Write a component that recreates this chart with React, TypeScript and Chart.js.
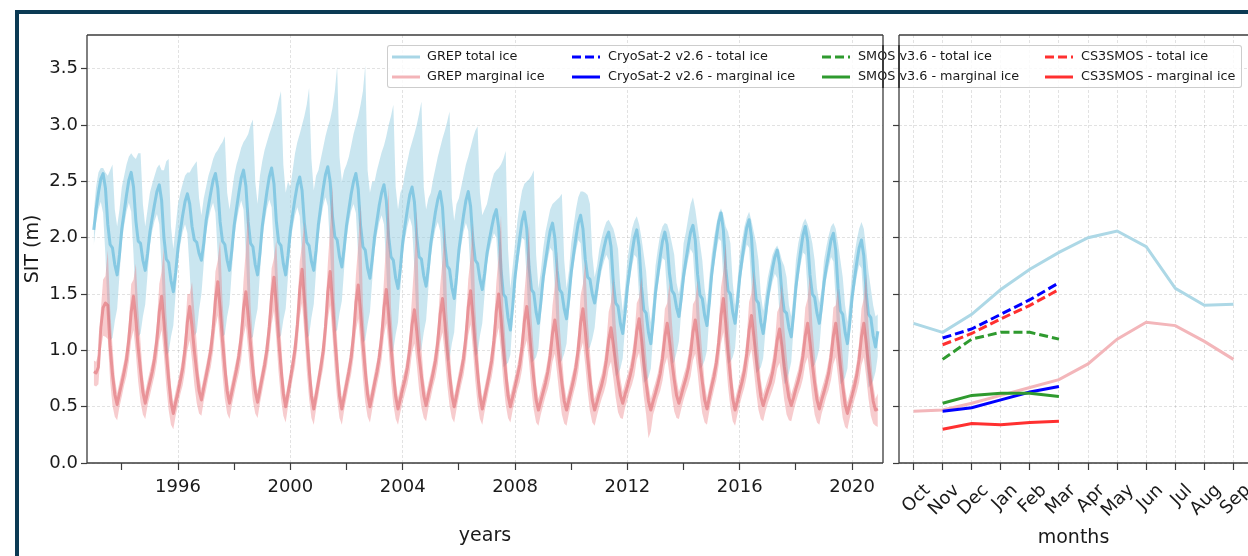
import React, { useEffect, useRef } from 'react';
import { Chart, registerables } from 'chart.js';

Chart.register(...registerables);

const FONT = '"DejaVu Sans", "Liberation Sans", sans-serif';
const TXT = '#1a1a1a';
const GRID = 'rgba(0,0,0,0.13)';
const SPINE = '#3c3c3c';

const FIRST_YEAR = 1993;
const YEAR_TICKS = [1994, 1996, 1998, 2000, 2002, 2004, 2006, 2008, 2010, 2012, 2014, 2016, 2018, 2020];
const SIT_TICKS = [0, 0.5, 1, 1.5, 2, 2.5, 3, 3.5];
const MONTHS = ['Oct', 'Nov', 'Dec', 'Jan', 'Feb', 'Mar', 'Apr', 'May', 'Jun', 'Jul', 'Aug', 'Sep'];

// GREP total ice, monthly (Jan..Dec) 1993-2020
const TOTAL_MEAN = [
  [2.07, 2.25, 2.40, 2.52, 2.57, 2.44, 2.12, 1.94, 1.91, 1.76, 1.67, 1.85],
  [2.08, 2.23, 2.38, 2.51, 2.58, 2.45, 2.15, 1.97, 1.95, 1.80, 1.71, 1.86],
  [2.05, 2.18, 2.30, 2.41, 2.47, 2.33, 2.00, 1.81, 1.78, 1.62, 1.52, 1.69],
  [1.91, 2.06, 2.20, 2.32, 2.39, 2.30, 2.10, 1.98, 1.96, 1.86, 1.80, 1.95],
  [2.15, 2.28, 2.40, 2.51, 2.57, 2.44, 2.14, 1.97, 1.94, 1.80, 1.71, 1.89],
  [2.11, 2.26, 2.40, 2.53, 2.60, 2.46, 2.14, 1.95, 1.92, 1.76, 1.67, 1.86],
  [2.10, 2.26, 2.41, 2.54, 2.62, 2.48, 2.15, 1.96, 1.93, 1.77, 1.67, 1.84],
  [2.06, 2.21, 2.35, 2.47, 2.54, 2.42, 2.13, 1.96, 1.93, 1.79, 1.71, 1.89],
  [2.12, 2.28, 2.43, 2.56, 2.63, 2.50, 2.19, 2.01, 1.98, 1.83, 1.74, 1.91],
  [2.11, 2.25, 2.39, 2.50, 2.57, 2.43, 2.11, 1.92, 1.89, 1.73, 1.64, 1.81],
  [2.01, 2.15, 2.29, 2.40, 2.47, 2.33, 2.01, 1.83, 1.80, 1.64, 1.55, 1.73],
  [1.96, 2.11, 2.25, 2.38, 2.45, 2.32, 2.01, 1.83, 1.81, 1.66, 1.57, 1.74],
  [1.95, 2.09, 2.23, 2.34, 2.41, 2.27, 1.94, 1.75, 1.72, 1.56, 1.46, 1.65],
  [1.89, 2.05, 2.20, 2.33, 2.41, 2.28, 1.98, 1.80, 1.77, 1.63, 1.54, 1.68],
  [1.86, 1.98, 2.09, 2.19, 2.25, 2.09, 1.72, 1.50, 1.47, 1.29, 1.18, 1.39],
  [1.65, 1.83, 2.00, 2.15, 2.23, 2.08, 1.74, 1.54, 1.51, 1.34, 1.24, 1.42],
  [1.64, 1.79, 1.93, 2.06, 2.13, 2.00, 1.71, 1.54, 1.51, 1.37, 1.28, 1.46],
  [1.69, 1.85, 2.00, 2.13, 2.20, 2.08, 1.81, 1.65, 1.63, 1.50, 1.42, 1.55],
  [1.70, 1.81, 1.91, 2.00, 2.05, 1.92, 1.60, 1.42, 1.39, 1.24, 1.15, 1.33],
  [1.56, 1.72, 1.87, 2.00, 2.07, 1.92, 1.57, 1.36, 1.33, 1.16, 1.06, 1.26],
  [1.51, 1.67, 1.83, 1.97, 2.05, 1.94, 1.68, 1.53, 1.50, 1.38, 1.30, 1.46],
  [1.66, 1.80, 1.93, 2.05, 2.11, 1.98, 1.67, 1.49, 1.46, 1.31, 1.22, 1.42],
  [1.67, 1.84, 2.00, 2.14, 2.22, 2.07, 1.73, 1.53, 1.50, 1.34, 1.24, 1.42],
  [1.65, 1.81, 1.96, 2.09, 2.16, 2.01, 1.66, 1.45, 1.42, 1.25, 1.15, 1.30],
  [1.48, 1.61, 1.73, 1.83, 1.89, 1.77, 1.51, 1.35, 1.33, 1.20, 1.12, 1.32],
  [1.56, 1.73, 1.88, 2.02, 2.10, 1.97, 1.67, 1.50, 1.47, 1.33, 1.24, 1.40],
  [1.60, 1.74, 1.86, 1.98, 2.04, 1.89, 1.55, 1.35, 1.32, 1.16, 1.06, 1.24],
  [1.47, 1.63, 1.78, 1.91, 1.98, 1.84, 1.51, 1.32, 1.29, 1.13, 1.03, 1.17],
];

const TOTAL_UPPER = [
  [2.22, 2.45, 2.58, 2.62, 2.62, 2.58, 2.55, 2.60, 2.65, 2.25, 2.10, 2.25],
  [2.45, 2.55, 2.65, 2.72, 2.75, 2.72, 2.70, 2.75, 2.75, 2.30, 2.10, 2.25],
  [2.40, 2.48, 2.55, 2.62, 2.65, 2.60, 2.60, 2.68, 2.70, 2.10, 1.90, 2.10],
  [2.30, 2.40, 2.48, 2.55, 2.58, 2.58, 2.62, 2.65, 2.68, 2.35, 2.20, 2.35],
  [2.45, 2.55, 2.62, 2.70, 2.75, 2.78, 2.82, 2.85, 2.90, 2.40, 2.25, 2.40],
  [2.55, 2.65, 2.72, 2.80, 2.85, 2.88, 2.92, 3.00, 3.05, 2.50, 2.30, 2.55],
  [2.68, 2.78, 2.85, 2.92, 2.98, 3.05, 3.12, 3.22, 3.30, 2.65, 2.40, 2.50],
  [2.45, 2.60, 2.75, 2.85, 2.92, 3.00, 3.08, 3.18, 3.33, 2.70, 2.42, 2.55],
  [2.60, 2.70, 2.80, 2.90, 2.98, 3.05, 3.15, 3.30, 3.52, 2.72, 2.50, 2.60],
  [2.65, 2.72, 2.82, 2.92, 3.00, 3.08, 3.18, 3.30, 3.53, 2.60, 2.40, 2.50],
  [2.50, 2.60, 2.68, 2.76, 2.82, 2.90, 3.00, 3.08, 3.18, 2.45, 2.25, 2.40],
  [2.45, 2.58, 2.68, 2.78, 2.85, 2.92, 3.00, 3.10, 3.21, 2.45, 2.25, 2.35],
  [2.40, 2.52, 2.62, 2.72, 2.80, 2.88, 2.95, 3.03, 3.12, 2.35, 2.15, 2.30],
  [2.35, 2.45, 2.55, 2.65, 2.72, 2.80, 2.88, 2.95, 2.99, 2.40, 2.20, 2.25],
  [2.30, 2.40, 2.50, 2.57, 2.60, 2.62, 2.65, 2.70, 2.77, 1.90, 1.55, 1.75],
  [1.95, 2.15, 2.30, 2.42, 2.48, 2.50, 2.52, 2.55, 2.60, 1.85, 1.55, 1.70],
  [1.90, 2.05, 2.15, 2.25, 2.30, 2.32, 2.34, 2.36, 2.39, 1.80, 1.55, 1.70],
  [1.95, 2.10, 2.25, 2.36, 2.41, 2.41, 2.40, 2.38, 2.30, 1.85, 1.65, 1.75],
  [1.90, 2.00, 2.08, 2.14, 2.16, 2.12, 2.08, 2.00, 1.90, 1.55, 1.35, 1.55],
  [1.80, 1.95, 2.08, 2.15, 2.19, 2.12, 2.00, 1.85, 1.70, 1.40, 1.25, 1.45],
  [1.75, 1.90, 2.03, 2.10, 2.13, 2.12, 2.05, 1.95, 1.85, 1.60, 1.50, 1.65],
  [1.95, 2.05, 2.18, 2.30, 2.36, 2.25, 2.10, 1.95, 1.80, 1.55, 1.40, 1.65],
  [1.85, 2.00, 2.12, 2.22, 2.26, 2.20, 2.10, 2.05, 1.95, 1.60, 1.40, 1.60],
  [1.85, 1.98, 2.10, 2.18, 2.23, 2.15, 2.05, 1.95, 1.80, 1.50, 1.35, 1.50],
  [1.65, 1.75, 1.85, 1.90, 1.93, 1.88, 1.80, 1.75, 1.65, 1.40, 1.30, 1.50],
  [1.80, 1.95, 2.05, 2.13, 2.17, 2.12, 2.05, 1.95, 1.80, 1.55, 1.42, 1.55],
  [1.80, 1.92, 2.02, 2.10, 2.13, 2.08, 1.95, 1.80, 1.65, 1.40, 1.25, 1.45],
  [1.70, 1.85, 1.98, 2.08, 2.14, 2.08, 1.90, 1.70, 1.55, 1.40, 1.30, 1.32],
];

const TOTAL_LOWER = [
  [1.93, 2.13, 2.25, 2.32, 2.22, 1.84, 1.32, 1.09, 1.11, 1.26, 1.37, 1.67],
  [1.96, 2.11, 2.23, 2.31, 2.23, 1.85, 1.35, 1.12, 1.15, 1.30, 1.41, 1.68],
  [1.93, 2.06, 2.15, 2.21, 2.12, 1.73, 1.20, 0.96, 0.98, 1.12, 1.22, 1.51],
  [1.79, 1.94, 2.05, 2.12, 2.04, 1.70, 1.30, 1.13, 1.16, 1.36, 1.50, 1.77],
  [2.03, 2.16, 2.25, 2.31, 2.22, 1.84, 1.34, 1.12, 1.14, 1.30, 1.41, 1.71],
  [1.99, 2.14, 2.25, 2.33, 2.25, 1.86, 1.34, 1.10, 1.12, 1.26, 1.37, 1.68],
  [1.98, 2.14, 2.26, 2.34, 2.27, 1.88, 1.35, 1.11, 1.13, 1.27, 1.37, 1.66],
  [1.94, 2.09, 2.20, 2.27, 2.19, 1.82, 1.33, 1.11, 1.13, 1.29, 1.41, 1.71],
  [2.00, 2.16, 2.28, 2.36, 2.28, 1.90, 1.39, 1.16, 1.18, 1.33, 1.44, 1.73],
  [1.99, 2.13, 2.24, 2.30, 2.22, 1.83, 1.31, 1.07, 1.09, 1.23, 1.34, 1.63],
  [1.89, 2.03, 2.14, 2.20, 2.12, 1.73, 1.21, 0.98, 1.00, 1.14, 1.25, 1.55],
  [1.84, 1.99, 2.10, 2.18, 2.10, 1.72, 1.21, 0.98, 1.01, 1.16, 1.27, 1.56],
  [1.83, 1.97, 2.08, 2.14, 2.06, 1.67, 1.14, 0.90, 0.92, 1.06, 1.16, 1.47],
  [1.77, 1.93, 2.05, 2.13, 2.06, 1.68, 1.18, 0.95, 0.97, 1.13, 1.24, 1.50],
  [1.76, 1.88, 1.97, 2.04, 2.00, 1.64, 1.12, 0.85, 0.87, 0.89, 0.96, 1.27],
  [1.55, 1.73, 1.88, 2.00, 1.98, 1.63, 1.14, 0.89, 0.91, 0.94, 1.02, 1.30],
  [1.54, 1.69, 1.81, 1.91, 1.88, 1.55, 1.11, 0.89, 0.91, 0.97, 1.06, 1.34],
  [1.59, 1.75, 1.88, 1.98, 1.95, 1.63, 1.21, 1.00, 1.03, 1.10, 1.20, 1.43],
  [1.60, 1.71, 1.79, 1.85, 1.80, 1.47, 1.00, 0.77, 0.79, 0.84, 0.93, 1.21],
  [1.46, 1.62, 1.75, 1.85, 1.82, 1.47, 0.97, 0.71, 0.73, 0.76, 0.84, 1.14],
  [1.41, 1.57, 1.71, 1.82, 1.80, 1.49, 1.08, 0.88, 0.90, 0.98, 1.08, 1.34],
  [1.56, 1.70, 1.81, 1.90, 1.86, 1.53, 1.07, 0.84, 0.86, 0.91, 1.00, 1.30],
  [1.57, 1.74, 1.88, 1.99, 1.97, 1.62, 1.13, 0.88, 0.90, 0.94, 1.02, 1.30],
  [1.55, 1.71, 1.84, 1.94, 1.91, 1.56, 1.06, 0.80, 0.82, 0.85, 0.93, 1.18],
  [1.38, 1.51, 1.61, 1.68, 1.64, 1.32, 0.91, 0.70, 0.73, 0.80, 0.90, 1.20],
  [1.46, 1.63, 1.76, 1.87, 1.85, 1.52, 1.07, 0.85, 0.87, 0.93, 1.02, 1.28],
  [1.50, 1.64, 1.74, 1.83, 1.79, 1.44, 0.95, 0.70, 0.72, 0.76, 0.84, 1.12],
  [1.37, 1.53, 1.66, 1.76, 1.73, 1.39, 0.91, 0.67, 0.69, 0.73, 0.81, 0.95],
];

// GREP marginal ice, monthly (Jan..Dec) 1993-2020
const MARG_MEAN = [
  [0.81, 0.80, 0.85, 1.20, 1.38, 1.42, 1.40, 1.03, 0.79, 0.61, 0.52, 0.62],
  [0.71, 0.81, 0.92, 1.10, 1.34, 1.48, 1.27, 1.02, 0.82, 0.63, 0.53, 0.63],
  [0.72, 0.81, 0.93, 1.10, 1.34, 1.48, 1.25, 0.98, 0.75, 0.54, 0.44, 0.54],
  [0.63, 0.73, 0.84, 1.01, 1.25, 1.39, 1.21, 0.99, 0.81, 0.64, 0.56, 0.67],
  [0.77, 0.88, 1.00, 1.19, 1.45, 1.61, 1.37, 1.09, 0.85, 0.64, 0.53, 0.63],
  [0.73, 0.83, 0.95, 1.12, 1.37, 1.52, 1.30, 1.05, 0.83, 0.64, 0.54, 0.65],
  [0.76, 0.87, 1.01, 1.21, 1.48, 1.65, 1.40, 1.10, 0.85, 0.62, 0.50, 0.62],
  [0.74, 0.87, 1.01, 1.23, 1.54, 1.72, 1.45, 1.12, 0.85, 0.60, 0.48, 0.60],
  [0.72, 0.85, 0.99, 1.21, 1.52, 1.70, 1.43, 1.11, 0.85, 0.60, 0.48, 0.59],
  [0.70, 0.81, 0.94, 1.14, 1.42, 1.58, 1.34, 1.06, 0.82, 0.61, 0.50, 0.60],
  [0.71, 0.81, 0.94, 1.12, 1.38, 1.54, 1.31, 1.03, 0.80, 0.59, 0.48, 0.57],
  [0.66, 0.74, 0.85, 1.01, 1.23, 1.36, 1.17, 0.95, 0.77, 0.60, 0.51, 0.61],
  [0.70, 0.80, 0.91, 1.08, 1.32, 1.46, 1.25, 1.00, 0.79, 0.60, 0.50, 0.60],
  [0.71, 0.81, 0.93, 1.12, 1.38, 1.53, 1.30, 1.03, 0.80, 0.59, 0.48, 0.58],
  [0.68, 0.79, 0.91, 1.09, 1.35, 1.50, 1.28, 1.02, 0.80, 0.60, 0.50, 0.59],
  [0.68, 0.77, 0.87, 1.03, 1.26, 1.39, 1.19, 0.95, 0.75, 0.56, 0.47, 0.55],
  [0.63, 0.71, 0.81, 0.95, 1.15, 1.27, 1.09, 0.89, 0.71, 0.55, 0.47, 0.56],
  [0.65, 0.74, 0.85, 1.01, 1.24, 1.37, 1.17, 0.94, 0.74, 0.56, 0.47, 0.54],
  [0.62, 0.69, 0.78, 0.91, 1.09, 1.20, 1.05, 0.88, 0.73, 0.60, 0.53, 0.61],
  [0.68, 0.76, 0.85, 0.98, 1.17, 1.28, 1.10, 0.89, 0.71, 0.55, 0.47, 0.55],
  [0.62, 0.70, 0.79, 0.93, 1.12, 1.24, 1.08, 0.90, 0.74, 0.60, 0.53, 0.60],
  [0.68, 0.75, 0.84, 0.97, 1.16, 1.27, 1.10, 0.89, 0.72, 0.56, 0.48, 0.58],
  [0.68, 0.77, 0.89, 1.07, 1.31, 1.46, 1.24, 0.98, 0.77, 0.57, 0.47, 0.55],
  [0.64, 0.72, 0.82, 0.97, 1.18, 1.31, 1.13, 0.93, 0.75, 0.59, 0.51, 0.58],
  [0.65, 0.71, 0.80, 0.92, 1.09, 1.19, 1.04, 0.86, 0.71, 0.58, 0.51, 0.58],
  [0.66, 0.73, 0.82, 0.95, 1.13, 1.24, 1.07, 0.88, 0.71, 0.56, 0.48, 0.56],
  [0.63, 0.71, 0.80, 0.94, 1.13, 1.24, 1.06, 0.86, 0.68, 0.52, 0.44, 0.52],
  [0.60, 0.68, 0.78, 0.92, 1.12, 1.24, 1.07, 0.87, 0.70, 0.55, 0.47, 0.48],
];

const MARG_UPPER = [
  [0.91, 0.90, 0.97, 1.35, 1.63, 1.66, 1.89, 1.38, 1.04, 0.76, 0.62, 0.72],
  [0.81, 0.91, 1.04, 1.25, 1.59, 1.63, 1.77, 1.37, 1.07, 0.78, 0.63, 0.73],
  [0.82, 0.91, 1.05, 1.25, 1.59, 1.70, 1.91, 1.33, 1.00, 0.69, 0.54, 0.64],
  [0.73, 0.83, 0.96, 1.16, 1.50, 1.50, 1.61, 1.34, 1.06, 0.79, 0.66, 0.77],
  [0.87, 0.98, 1.12, 1.34, 1.70, 1.80, 1.98, 1.44, 1.10, 0.79, 0.63, 0.73],
  [0.83, 0.93, 1.07, 1.27, 1.62, 1.90, 2.28, 1.40, 1.08, 0.79, 0.64, 0.75],
  [0.86, 0.97, 1.13, 1.36, 1.73, 1.82, 1.98, 1.45, 1.10, 0.77, 0.60, 0.72],
  [0.84, 0.97, 1.13, 1.38, 1.79, 1.94, 2.15, 1.47, 1.10, 0.75, 0.58, 0.70],
  [0.82, 0.95, 1.11, 1.36, 1.77, 2.09, 2.48, 1.46, 1.10, 0.75, 0.58, 0.69],
  [0.80, 0.91, 1.06, 1.29, 1.67, 1.94, 2.30, 1.41, 1.07, 0.76, 0.60, 0.70],
  [0.81, 0.91, 1.06, 1.27, 1.63, 2.00, 2.45, 1.38, 1.05, 0.74, 0.58, 0.67],
  [0.76, 0.84, 0.97, 1.16, 1.48, 1.80, 2.25, 1.30, 1.02, 0.75, 0.61, 0.71],
  [0.80, 0.90, 1.03, 1.23, 1.57, 1.80, 2.13, 1.35, 1.04, 0.75, 0.60, 0.70],
  [0.81, 0.91, 1.05, 1.27, 1.63, 1.83, 2.13, 1.38, 1.05, 0.74, 0.58, 0.68],
  [0.78, 0.89, 1.03, 1.24, 1.60, 1.85, 2.20, 1.37, 1.05, 0.75, 0.60, 0.69],
  [0.78, 0.87, 0.99, 1.18, 1.51, 1.76, 2.13, 1.30, 1.00, 0.71, 0.57, 0.65],
  [0.73, 0.81, 0.93, 1.10, 1.40, 1.58, 1.88, 1.24, 0.96, 0.70, 0.57, 0.66],
  [0.75, 0.84, 0.97, 1.16, 1.49, 1.59, 1.80, 1.29, 0.99, 0.71, 0.57, 0.64],
  [0.72, 0.79, 0.90, 1.06, 1.34, 1.43, 1.65, 1.23, 0.98, 0.75, 0.63, 0.71],
  [0.78, 0.86, 0.97, 1.13, 1.42, 1.47, 1.65, 1.24, 0.96, 0.70, 0.57, 0.65],
  [0.72, 0.80, 0.91, 1.08, 1.37, 1.42, 1.60, 1.25, 0.99, 0.75, 0.63, 0.70],
  [0.78, 0.85, 0.96, 1.12, 1.41, 1.45, 1.62, 1.24, 0.97, 0.71, 0.58, 0.68],
  [0.78, 0.87, 1.01, 1.22, 1.56, 1.70, 1.95, 1.33, 1.02, 0.72, 0.57, 0.65],
  [0.74, 0.82, 0.94, 1.12, 1.43, 1.51, 1.71, 1.28, 1.00, 0.74, 0.61, 0.68],
  [0.75, 0.81, 0.92, 1.07, 1.34, 1.39, 1.59, 1.21, 0.96, 0.73, 0.61, 0.68],
  [0.76, 0.83, 0.94, 1.10, 1.38, 1.46, 1.68, 1.23, 0.96, 0.71, 0.58, 0.66],
  [0.73, 0.81, 0.92, 1.09, 1.38, 1.40, 1.56, 1.21, 0.93, 0.67, 0.54, 0.62],
  [0.70, 0.78, 0.90, 1.07, 1.37, 1.46, 1.68, 1.22, 0.95, 0.70, 0.57, 0.62],
];

const MARG_LOWER = [
  [0.69, 0.68, 0.70, 1.00, 1.13, 1.12, 1.10, 0.73, 0.51, 0.41, 0.38, 0.50],
  [0.59, 0.69, 0.77, 0.90, 1.09, 1.18, 0.97, 0.72, 0.54, 0.43, 0.39, 0.51],
  [0.60, 0.69, 0.78, 0.90, 1.09, 1.18, 0.95, 0.68, 0.47, 0.34, 0.30, 0.42],
  [0.51, 0.61, 0.69, 0.81, 1.00, 1.09, 0.91, 0.69, 0.53, 0.44, 0.42, 0.55],
  [0.65, 0.76, 0.85, 0.99, 1.20, 1.31, 1.07, 0.79, 0.57, 0.44, 0.39, 0.51],
  [0.61, 0.71, 0.80, 0.92, 1.12, 1.22, 1.00, 0.75, 0.55, 0.44, 0.40, 0.53],
  [0.64, 0.75, 0.86, 1.01, 1.23, 1.35, 1.10, 0.80, 0.57, 0.42, 0.36, 0.50],
  [0.62, 0.75, 0.86, 1.03, 1.29, 1.42, 1.15, 0.82, 0.57, 0.40, 0.34, 0.48],
  [0.60, 0.73, 0.84, 1.01, 1.27, 1.40, 1.13, 0.81, 0.57, 0.40, 0.34, 0.47],
  [0.58, 0.69, 0.79, 0.94, 1.17, 1.28, 1.04, 0.76, 0.54, 0.41, 0.36, 0.48],
  [0.59, 0.69, 0.79, 0.92, 1.13, 1.24, 1.01, 0.73, 0.52, 0.39, 0.34, 0.45],
  [0.54, 0.62, 0.70, 0.81, 0.98, 1.06, 0.87, 0.65, 0.49, 0.40, 0.37, 0.49],
  [0.58, 0.68, 0.76, 0.88, 1.07, 1.16, 0.95, 0.70, 0.51, 0.40, 0.36, 0.48],
  [0.59, 0.69, 0.78, 0.92, 1.13, 1.23, 1.00, 0.73, 0.52, 0.39, 0.34, 0.46],
  [0.56, 0.67, 0.76, 0.89, 1.10, 1.20, 0.98, 0.72, 0.52, 0.40, 0.36, 0.47],
  [0.56, 0.65, 0.72, 0.83, 1.01, 1.09, 0.89, 0.65, 0.47, 0.36, 0.33, 0.43],
  [0.51, 0.59, 0.66, 0.75, 0.90, 0.97, 0.79, 0.59, 0.43, 0.35, 0.33, 0.44],
  [0.53, 0.62, 0.70, 0.81, 0.99, 1.07, 0.87, 0.64, 0.46, 0.36, 0.33, 0.42],
  [0.50, 0.57, 0.63, 0.71, 0.84, 0.90, 0.75, 0.58, 0.45, 0.40, 0.39, 0.49],
  [0.56, 0.64, 0.70, 0.78, 0.92, 0.98, 0.80, 0.59, 0.43, 0.22, 0.28, 0.43],
  [0.50, 0.58, 0.64, 0.73, 0.87, 0.94, 0.78, 0.60, 0.46, 0.40, 0.39, 0.48],
  [0.56, 0.63, 0.69, 0.77, 0.91, 0.97, 0.80, 0.59, 0.44, 0.36, 0.34, 0.46],
  [0.56, 0.65, 0.74, 0.87, 1.06, 1.16, 0.94, 0.68, 0.49, 0.37, 0.33, 0.43],
  [0.52, 0.60, 0.67, 0.77, 0.93, 1.01, 0.83, 0.63, 0.47, 0.39, 0.37, 0.46],
  [0.53, 0.59, 0.65, 0.72, 0.84, 0.89, 0.74, 0.56, 0.43, 0.38, 0.37, 0.46],
  [0.54, 0.61, 0.67, 0.75, 0.88, 0.94, 0.77, 0.58, 0.43, 0.36, 0.34, 0.44],
  [0.51, 0.59, 0.65, 0.74, 0.88, 0.94, 0.76, 0.56, 0.40, 0.32, 0.30, 0.40],
  [0.48, 0.56, 0.63, 0.72, 0.87, 0.94, 0.77, 0.57, 0.42, 0.35, 0.33, 0.32],
];

// Monthly climatology (Oct..Sep)
const GREP_TOTAL_CLIM = [1.24, 1.16, 1.32, 1.54, 1.72, 1.87, 2.00, 2.06, 1.92, 1.55, 1.40, 1.41];
const GREP_MARG_CLIM = [0.46, 0.47, 0.53, 0.60, 0.67, 0.74, 0.88, 1.10, 1.25, 1.22, 1.08, 0.92];
const CS2_TOTAL = [null, 1.11, 1.19, 1.32, 1.45, 1.60, null, null, null, null, null, null];
const CS2_MARG = [null, 0.46, 0.49, 0.56, 0.63, 0.68, null, null, null, null, null, null];
const SMOS_TOTAL = [null, 0.92, 1.10, 1.16, 1.16, 1.10, null, null, null, null, null, null];
const SMOS_MARG = [null, 0.53, 0.60, 0.62, 0.62, 0.59, null, null, null, null, null, null];
const CS3_TOTAL = [null, 1.05, 1.15, 1.28, 1.40, 1.54, null, null, null, null, null, null];
const CS3_MARG = [null, 0.30, 0.35, 0.34, 0.36, 0.37, null, null, null, null, null, null];

const LEGEND_LABELS = [
  'GREP total ice', 'GREP marginal ice',
  'CryoSat-2 v2.6 - total ice', 'CryoSat-2 v2.6 - marginal ice',
  'SMOS v3.6 - total ice', 'SMOS v3.6 - marginal ice',
  'CS3SMOS - total ice', 'CS3SMOS - marginal ice',
];

const C_TOTAL_BAND = 'rgba(150,205,225,0.5)';
const C_TOTAL_LINE = 'rgba(120,195,225,0.82)';
const C_MARG_BAND = 'rgba(235,120,125,0.38)';
const C_MARG_LINE = 'rgba(222,105,112,0.58)';
const C_CLIM_TOTAL = '#add8e6';
const C_CLIM_MARG = '#f3b6ba';
const C_BLUE = '#0000ff';
const C_GREEN = '#2f9a2f';
const C_RED = '#ff3030';

function toPoints(rows: number[][]) {
  const pts: { x: number; y: number }[] = [];
  rows.forEach((row, yi) => row.forEach((v, m) => pts.push({ x: FIRST_YEAR + yi + m / 12, y: v })));
  return pts;
}

function spinePlugin(sides: { left: boolean; right: boolean; top: boolean; bottom: boolean }) {
  return {
    id: 'spines',
    afterDatasetsDraw(chart: any) {
      const { ctx, chartArea: a } = chart;
      ctx.save();
      ctx.strokeStyle = SPINE;
      ctx.lineWidth = 1.3;
      ctx.beginPath();
      if (sides.left) { ctx.moveTo(a.left, a.top); ctx.lineTo(a.left, a.bottom); }
      if (sides.right) { ctx.moveTo(a.right, a.top); ctx.lineTo(a.right, a.bottom); }
      if (sides.top) { ctx.moveTo(a.left, a.top); ctx.lineTo(a.right, a.top); }
      if (sides.bottom) { ctx.moveTo(a.left, a.bottom); ctx.lineTo(a.right, a.bottom); }
      ctx.stroke();
      ctx.restore();
    },
  };
}

const tickFont = { family: FONT, size: 18 };
const titleFont = { family: FONT, size: 19 };

const fixXAxis = (s: any) => {
  s.height = 93;
  s.paddingLeft = 0;
  s.paddingRight = 0;
};

export default function App() {
  const leftRef = useRef<HTMLCanvasElement>(null);
  const rightRef = useRef<HTMLCanvasElement>(null);

  useEffect(() => {
    const band = { pointRadius: 0, borderWidth: 0, tension: 0 };
    const left = new Chart(leftRef.current as HTMLCanvasElement, {
      type: 'line',
      data: {
        datasets: [
          { ...band, data: toPoints(TOTAL_UPPER), backgroundColor: C_TOTAL_BAND, fill: '+1', order: 4 },
          { ...band, data: toPoints(TOTAL_LOWER), backgroundColor: C_TOTAL_BAND, fill: false, order: 4 },
          { data: toPoints(TOTAL_MEAN), borderColor: C_TOTAL_LINE, borderWidth: 3, pointRadius: 0, fill: false, order: 3 },
          { ...band, data: toPoints(MARG_UPPER), backgroundColor: C_MARG_BAND, fill: '+1', order: 2 },
          { ...band, data: toPoints(MARG_LOWER), backgroundColor: C_MARG_BAND, fill: false, order: 2 },
          { data: toPoints(MARG_MEAN), borderColor: C_MARG_LINE, borderWidth: 3, pointRadius: 0, fill: false, order: 1 },
        ] as any,
      },
      options: {
        animation: false,
        responsive: false,
        maintainAspectRatio: false,
        layout: { padding: { left: 0, right: 7, top: 35, bottom: 0 }, autoPadding: false },
        plugins: { legend: { display: false }, tooltip: { enabled: false } },
        elements: { line: { tension: 0, borderJoinStyle: 'round' } },
        scales: {
          x: {
            type: 'linear',
            min: 1992.76,
            max: 2021.1,
            afterBuildTicks: (s: any) => { s.ticks = YEAR_TICKS.map((v) => ({ value: v })); },
            afterFit: fixXAxis,
            ticks: {
              callback: (v: any) => (Number(v) % 4 === 0 ? String(v) : ''),
              font: tickFont, color: TXT, padding: 7, maxRotation: 0, minRotation: 0, autoSkip: false,
            },
            grid: {
              color: (c: any) => (c.tick && c.tick.value % 4 === 0 ? GRID : 'rgba(0,0,0,0)'),
              lineWidth: 0.9, tickColor: SPINE, tickLength: 7, tickWidth: 1.2, tickBorderDash: [],
            },
            border: { display: false, dash: [3, 2] },
            title: { display: true, text: 'years', font: titleFont, color: TXT, padding: { top: 0, bottom: 9 } },
          },
          y: {
            type: 'linear',
            min: 0,
            max: 3.8,
            afterBuildTicks: (s: any) => { s.ticks = SIT_TICKS.map((v) => ({ value: v })); },
            afterFit: (s: any) => { s.width = 87; },
            ticks: { callback: (v: any) => Number(v).toFixed(1), font: tickFont, color: TXT, padding: 3 },
            grid: { color: GRID, lineWidth: 0.9, tickColor: SPINE, tickLength: 6, tickWidth: 1.2, tickBorderDash: [] },
            border: { display: false, dash: [3, 2] },
            title: { display: true, text: 'SIT (m)', font: titleFont, color: TXT, padding: { top: 22, bottom: 0 } },
          },
        },
      } as any,
      plugins: [spinePlugin({ left: true, right: true, top: true, bottom: true })],
    });

    const line = (data: any[], color: string, dashed: boolean, order: number) => ({
      data, borderColor: color, borderWidth: 3, pointRadius: 0, fill: false, tension: 0,
      borderDash: dashed ? [9, 4] : [], order, spanGaps: false,
    });
    const right = new Chart(rightRef.current as HTMLCanvasElement, {
      type: 'line',
      data: {
        labels: MONTHS,
        datasets: [
          line(GREP_TOTAL_CLIM, C_CLIM_TOTAL, false, 9),
          line(GREP_MARG_CLIM, C_CLIM_MARG, false, 8),
          line(CS2_TOTAL, C_BLUE, true, 6),
          line(CS2_MARG, C_BLUE, false, 6),
          line(SMOS_TOTAL, C_GREEN, true, 5),
          line(SMOS_MARG, C_GREEN, false, 5),
          line(CS3_TOTAL, C_RED, true, 4),
          line(CS3_MARG, C_RED, false, 4),
        ] as any,
      },
      options: {
        animation: false,
        responsive: false,
        maintainAspectRatio: false,
        layout: { padding: { left: 7, right: 2, top: 35, bottom: 0 }, autoPadding: false },
        plugins: { legend: { display: false }, tooltip: { enabled: false } },
        scales: {
          x: {
            type: 'category',
            offset: true,
            afterFit: fixXAxis,
            ticks: { font: tickFont, color: TXT, maxRotation: 45, minRotation: 45, autoSkip: false, labelOffset: 14, padding: 10 },
            grid: { offset: false, color: GRID, lineWidth: 0.9, tickColor: SPINE, tickLength: 7, tickWidth: 1.2, tickBorderDash: [] },
            border: { display: false, dash: [3, 2] },
            title: { display: true, text: 'months', font: titleFont, color: TXT, padding: { top: 0, bottom: 7 } },
          },
          y: {
            type: 'linear',
            min: 0,
            max: 3.8,
            afterBuildTicks: (s: any) => { s.ticks = SIT_TICKS.map((v) => ({ value: v })); },
            afterFit: (s: any) => { s.width = 6; },
            ticks: { display: false },
            grid: { color: GRID, lineWidth: 0.9, tickColor: SPINE, tickLength: 6, tickWidth: 1.2, tickBorderDash: [] },
            border: { display: false, dash: [3, 2] },
          },
        },
      } as any,
      plugins: [spinePlugin({ left: true, right: false, top: true, bottom: true })],
    });

    return () => { left.destroy(); right.destroy(); };
  }, []);

  const legendStyles = [
    { color: '#a9d6e6', dashed: false }, { color: '#f3b4b8', dashed: false },
    { color: C_BLUE, dashed: true }, { color: C_BLUE, dashed: false },
    { color: C_GREEN, dashed: true }, { color: C_GREEN, dashed: false },
    { color: C_RED, dashed: true }, { color: C_RED, dashed: false },
  ];
  const colX = [5, 185, 435, 658];
  const textX = [40, 221, 471, 694];
  const rowY = [11, 31];

  return (
    <div style={{ position: 'fixed', left: 0, top: 0, width: 1248, height: 556, overflow: 'hidden', background: '#fff' }}>
      <div style={{ position: 'absolute', left: 15, top: 10, width: 1300, height: 620, border: '4px solid #0b3a54', boxSizing: 'border-box', pointerEvents: 'none' }} />
      <canvas ref={leftRef} width={890} height={556} style={{ position: 'absolute', left: 0, top: 0 }} />
      <canvas ref={rightRef} width={364} height={556} style={{ position: 'absolute', left: 886, top: 0 }} />
      <div style={{
        position: 'absolute', left: 387, top: 45, width: 855, height: 43, boxSizing: 'border-box',
        border: '1px solid rgba(200,200,200,0.9)', borderRadius: 3, background: 'rgba(255,255,255,0.82)',
        fontFamily: FONT, fontSize: 12.8, color: TXT,
      }}>
        {LEGEND_LABELS.map((label, i) => {
          const col = Math.floor(i / 2);
          const row = i % 2;
          const st = legendStyles[i];
          return (
            <React.Fragment key={label}>
              <svg width={28} height={6} style={{ position: 'absolute', left: colX[col] - 1, top: rowY[row] - 3 }}>
                <line x1={0} y1={3} x2={28} y2={3} stroke={st.color} strokeWidth={3}
                  strokeDasharray={st.dashed ? '9 4' : undefined} />
              </svg>
              <span style={{ position: 'absolute', left: textX[col] - 1, top: rowY[row] - 9, lineHeight: '16px', whiteSpace: 'nowrap' }}>{label}</span>
            </React.Fragment>
          );
        })}
      </div>
      <div style={{ position: 'absolute', left: 882.4, top: 45, width: 1.3, height: 43, background: SPINE }} />
      <div style={{ position: 'absolute', left: 898.4, top: 45, width: 1.3, height: 43, background: SPINE }} />
    </div>
  );
}
